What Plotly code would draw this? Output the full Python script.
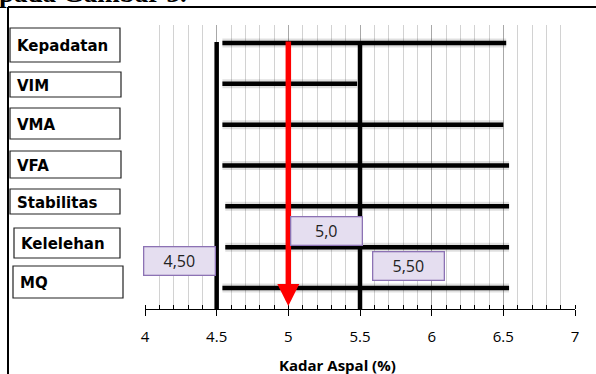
import plotly.graph_objects as go

# ---------------- data ----------------
categories = ["Kepadatan", "VIM", "VMA", "VFA", "Stabilitas", "Kelelehan", "MQ"]
bar_start = [4.54, 4.54, 4.54, 4.54, 4.56, 4.56, 4.54]
bar_end = [6.52, 5.48, 6.50, 6.54, 6.54, 6.54, 6.54]
batas_bawah = 4.5
batas_atas = 5.5
kadar_optimum = 5.0
label_bawah = "4,50"
label_atas = "5,50"
label_optimum = "5,0"
x_tickvals = [4, 4.5, 5, 5.5, 6, 6.5, 7]
x_ticktext = ["4", "4.5", "5", "5.5", "6", "6.5", "7"]
x_title = "Kadar Aspal (%)"
top_text = "pada Gambar 3."

# ---------------- layout helpers ----------------
W, H = 596, 374
ML, MR, MT, MB = 145, 21, 25, 65
PW, PH = W - ML - MR, H - MT - MB


def px(xp):
    return (xp - ML) / PW


def py(yp):
    return (H - MB - yp) / PH


fig = go.Figure()

# soft shadow under the bars
for i, (s, e) in enumerate(zip(bar_start, bar_end)):
    fig.add_trace(go.Scatter(
        x=[s, e], y=[i, i], mode="lines",
        line=dict(color="rgba(0,0,0,0.12)", width=9),
        hoverinfo="skip", showlegend=False))

# horizontal criterion bars
for i, (name, s, e) in enumerate(zip(categories, bar_start, bar_end)):
    fig.add_trace(go.Scatter(
        x=[s, e], y=[i, i], mode="lines",
        line=dict(color="black", width=4.5),
        hoverinfo="skip", showlegend=False, name=name))

shapes = []
# vertical limit lines
for xv in (batas_bawah, batas_atas):
    shapes.append(dict(type="line", xref="x", yref="paper",
                       x0=xv, x1=xv, y0=0, y1=py(42),
                       line=dict(color="black", width=4.5)))

# left label boxes (pixel boxes)
label_boxes = [(10, 120, 28, 62), (10, 121, 72, 97), (10, 120, 108, 139),
               (10, 121, 151, 178), (10, 120, 189, 214), (14, 120, 228, 258),
               (13, 123, 266, 298)]
annotations = []
for name, (x0, x1, y0, y1) in zip(categories, label_boxes):
    shapes.append(dict(type="rect", xref="paper", yref="paper",
                       x0=px(x0), x1=px(x1), y0=py(y1), y1=py(y0),
                       line=dict(color="#222222", width=1.2),
                       fillcolor="white", layer="above"))
    annotations.append(dict(xref="paper", yref="paper",
                            x=px(x0 + 5), y=py((y0 + y1) / 2 + 1),
                            xanchor="left", yanchor="middle", showarrow=False,
                            text=name,
                            font=dict(family="DejaVu Sans", size=15,
                                      color="black", weight="bold")))

# outer frame
shapes.append(dict(type="line", xref="paper", yref="paper",
                   x0=px(8), x1=px(8), y0=py(7), y1=py(H + 2),
                   line=dict(color="black", width=2)))
shapes.append(dict(type="line", xref="paper", yref="paper",
                   x0=px(8), x1=px(W + 2), y0=py(7), y1=py(7),
                   line=dict(color="black", width=2)))

# red arrow at optimum
annotations.append(dict(xref="x", yref="paper", x=kadar_optimum, y=py(306),
                        ax=0, ay=-266, axref="pixel", ayref="pixel",
                        text="", showarrow=True, arrowhead=2, arrowsize=0.8,
                        arrowwidth=5.5, arrowcolor="#ff0000", standoff=0))

box_style = dict(bgcolor="#e5def0", bordercolor="#8c72b4", borderwidth=1.3,
                 font=dict(family="Open Sans", size=16, color="#222222"),
                 showarrow=False, width=68, height=25, align="center",
                 yanchor="middle")
annotations.append(dict(xref="x", yref="paper", x=batas_bawah, y=py(260.5),
                        xanchor="right", text=label_bawah, xshift=-1, **box_style))
annotations.append(dict(xref="x", yref="paper", x=kadar_optimum, y=py(230.5),
                        xanchor="left", text=label_optimum, xshift=2, **box_style))
annotations.append(dict(xref="x", yref="paper", x=batas_atas, y=py(265.5),
                        xanchor="left", text=label_atas, xshift=12, **box_style))

# axis title
annotations.append(dict(xref="paper", yref="paper", x=px(337), y=py(365),
                        xanchor="center", yanchor="middle", showarrow=False,
                        text=x_title,
                        font=dict(family="Open Sans", size=15, color="black",
                                  weight="bold")))
# cut-off caption at top
annotations.append(dict(xref="paper", yref="paper", x=px(-3), y=py(-7),
                        xanchor="left", yanchor="middle", showarrow=False,
                        text=top_text,
                        font=dict(family="Liberation Serif", size=27,
                                  color="black", weight="bold")))

fig.update_layout(
    width=W, height=H,
    margin=dict(l=ML, r=MR, t=MT, b=MB),
    paper_bgcolor="white", plot_bgcolor="white",
    shapes=shapes, annotations=annotations,
    showlegend=False,
    xaxis=dict(range=[4, 7], tickvals=x_tickvals, ticktext=x_ticktext,
               showgrid=True, gridcolor="#a8a8a8", gridwidth=1,
               zeroline=False, showline=True, linecolor="black", linewidth=1,
               ticks="outside", ticklen=6, tickcolor="black",
               ticklabelstandoff=8,
               tickfont=dict(family="Open Sans", size=15, color="black"),
               minor=dict(dtick=0.1, showgrid=True, gridcolor="#d2d2d2",
                          gridwidth=1, ticks="inside", ticklen=4,
                          tickcolor="black"),
               fixedrange=True),
    yaxis=dict(range=[6 + 21 / 40.83, -18 / 40.83], showgrid=False,
               zeroline=False, showticklabels=False, showline=False,
               ticks="", fixedrange=True),
)

fig.write_html("out.html", config={"displayModeBar": False},
               post_script="document.body.style.margin='0';"
                           "document.body.style.overflow='hidden';")
